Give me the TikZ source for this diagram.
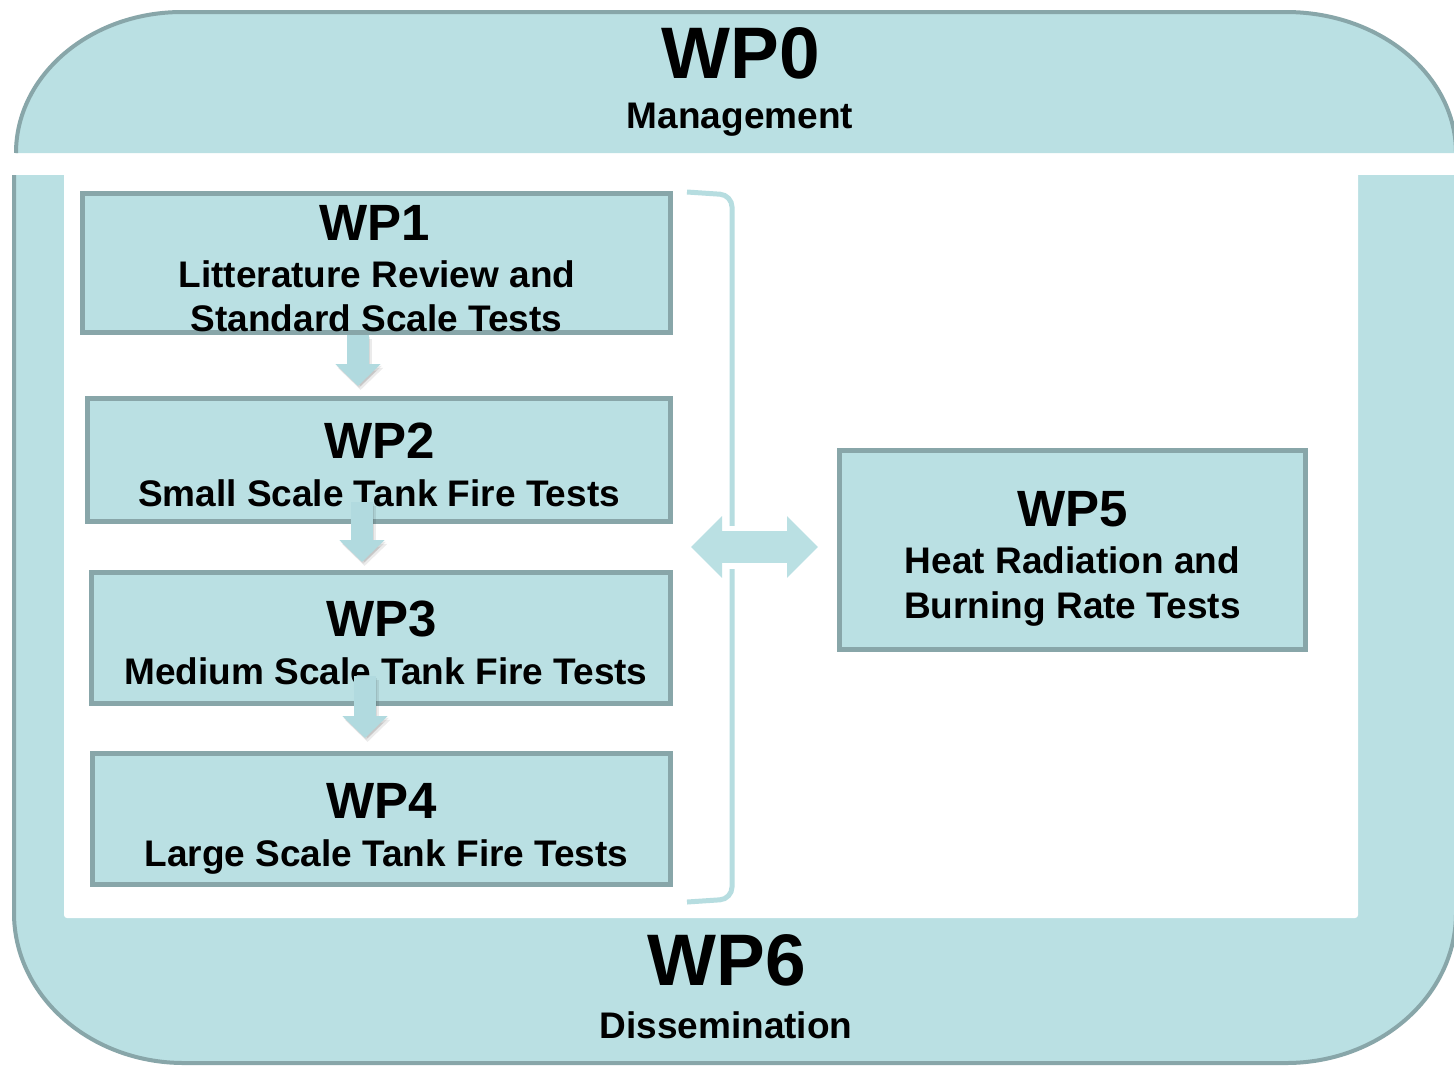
\documentclass[tikz,border=0pt]{standalone}
\usepackage{fontspec}
\setmainfont{Liberation Sans}
\usepackage{xcolor}
\usetikzlibrary{positioning,arrows.meta,fit,calc}

\definecolor{wpfill}{HTML}{BAE0E3}
\definecolor{wpline}{HTML}{88A6A9}
\definecolor{grpline}{HTML}{B6DDE0}
\definecolor{flowfill}{HTML}{B1DADF}

\tikzset{
  wpbox/.style={draw=wpline, fill=wpfill, line width=2.5pt, inner sep=0pt},
  wpbig/.style={anchor=base, inner sep=0pt, font=\fontsize{36.5}{40}\selectfont\bfseries},
  wpnum/.style={anchor=base, inner sep=0pt, font=\fontsize{25.5}{28}\selectfont\bfseries},
  wptext/.style={anchor=base, inner sep=0pt, font=\fontsize{18.5}{22}\selectfont\bfseries},
  wpflow/.style={draw=flowfill, line width=11pt, -{Triangle[length=11pt,width=22pt]}},
  wpshade/.style={wpflow, draw=black, opacity=0.08, transform canvas={shift={(#1,-1.5*#1)}}},
  biflow/.style={draw=wpfill, line width=16pt,
    {Triangle[length=15.5pt,width=30pt]}-{Triangle[length=15.5pt,width=30pt]}},
}

\begin{document}
\begin{tikzpicture}[x=0.5pt,y=-0.5pt]
  \useasboundingbox (0,0) rectangle (1454,1067);
  \fill[white] (0,0) rectangle (1454,1067);

  % WP6 frame round the work packages
  \fill[wpfill] (14,175) -- (14,913) arc[start angle=180,end angle=90,x radius=170,y radius=150]
    -- (1286,1063) arc[start angle=90,end angle=0,x radius=170,y radius=150] -- (1456,175) -- cycle;
  \fill[white,rounded corners=1.5pt] (64,165) rectangle (1358,918);
  \draw[wpline,line width=2pt] (14,175) -- (14,913) arc[start angle=180,end angle=90,x radius=170,y radius=150]
    -- (1286,1063) arc[start angle=90,end angle=0,x radius=170,y radius=150] -- (1456,175);

  % WP0 band
  \fill[wpfill] (16,153) arc[start angle=180,end angle=270,x radius=166,y radius=141]
    -- (1286,12) arc[start angle=270,end angle=360,x radius=170,y radius=141] -- cycle;
  \draw[wpline,line width=2pt] (16,153) arc[start angle=180,end angle=270,x radius=166,y radius=141]
    -- (1286,12) arc[start angle=270,end angle=360,x radius=170,y radius=141];

  \node[wpbox,fit={(82.5,193.5) (670.5,332.5)}] (wp1) {};
  \node[wpbox,fit={(87.5,398.5) (670.5,521.5)}] (wp2) {};
  \node[wpbox,fit={(91.5,572.5) (670.5,703.5)}] (wp3) {};
  \node[wpbox,fit={(92.5,753.5) (670.5,884.5)}] (wp4) {};
  \node[wpbox,fit={(839.5,450.5) (1305.5,649.5)}] (wp5) {};

  \node[wpbig] (wp0num) at (741,78) {WP0};
  \node[wptext] (wp0name) at (740,128) {Management};
  \node[wpnum] (wp1num) at (375,240) {WP1};
  \node[wptext] (wp1l1) at (377,287) {Litterature Review and};
  \node[wptext] (wp1l2) at (376.5,331) {Standard Scale Tests};
  \node[wpnum] (wp2num) at (380,458) {WP2};
  \node[wptext] (wp2l1) at (379,506) {Small Scale Tank Fire Tests};
  \node[wpnum] (wp3num) at (382,636) {WP3};
  \node[wptext] (wp3l1) at (386,684) {Medium Scale Tank Fire Tests};
  \node[wpnum] (wp4num) at (382,818) {WP4};
  \node[wptext] (wp4l1) at (386.5,866) {Large Scale Tank Fire Tests};
  \node[wpnum] (wp5num) at (1073,526) {WP5};
  \node[wptext] (wp5l1) at (1072.5,573) {Heat Radiation and};
  \node[wptext] (wp5l2) at (1072.5,618) {Burning Rate Tests};
  \node[wpbig] (wp6num) at (726.5,985) {WP6};
  \node[wptext] (wp6name) at (726,1038) {Dissemination};

  % flow WP1 -> WP2 -> WP3 -> WP4, soft shadow first
  \coordinate (f1) at ($(wp1.south)+(-18.5,0)$);
  \coordinate (f2) at ($(wp2.south)+(-17,-22)$);
  \coordinate (f3) at ($(wp3.south)+(-16,-30)$);
  \draw[wpshade=0.6pt] (f1) -- ($(f1 |- wp2.north)+(0,-10)$);
  \draw[wpshade=1.3pt] (f1) -- ($(f1 |- wp2.north)+(0,-10)$);
  \draw[wpflow] (f1) -- ($(f1 |- wp2.north)+(0,-10)$);
  \draw[wpshade=0.6pt] (f2) -- ($(f2 |- wp3.north)+(0,-8)$);
  \draw[wpshade=1.3pt] (f2) -- ($(f2 |- wp3.north)+(0,-8)$);
  \draw[wpflow] (f2) -- ($(f2 |- wp3.north)+(0,-8)$);
  \draw[wpshade=0.6pt] (f3) -- ($(f3 |- wp4.north)+(0,-13)$);
  \draw[wpshade=1.3pt] (f3) -- ($(f3 |- wp4.north)+(0,-13)$);
  \draw[wpflow] (f3) -- ($(f3 |- wp4.north)+(0,-13)$);

  % bracket and link to WP5
  \coordinate (grp) at (691,547);
  \draw[grpline,line width=2.5pt,rounded corners=6pt] (687,192) -- (732,195) -- (732,899) -- (687,902);
  \draw[white,line width=21.5pt,shorten <=15.5pt,shorten >=15.5pt] (grp) -- ($(grp -| wp5.west)+(-19,0)$);
  \draw[biflow] (grp) -- ($(grp -| wp5.west)+(-19,0)$);
\end{tikzpicture}
\end{document}
